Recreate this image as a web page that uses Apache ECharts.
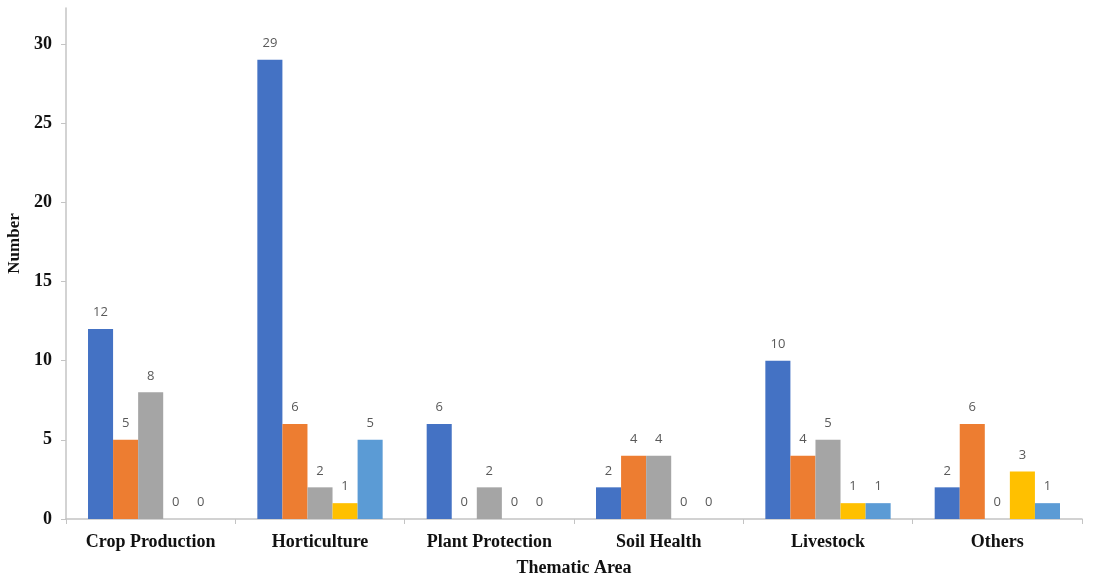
<!DOCTYPE html>
<html>
<head>
<meta charset="utf-8">
<script src="https://cdn.jsdelivr.net/npm/echarts@6/dist/echarts.min.js"></script>
<style>
  html, body { margin: 0; padding: 0; background: #fff; }
  #chart { width: 1093px; height: 577px; }
</style>
</head>
<body>
<div id="chart"></div>
<script>
// Thematic areas along the x axis
const categories = ['Crop Production', 'Horticulture', 'Plant Protection', 'Soil Health', 'Livestock', 'Others'];

// Counts per thematic area, one array per series
const series1 = [12, 29, 6, 2, 10, 2];
const series2 = [5, 6, 0, 4, 4, 6];
const series3 = [8, 2, 2, 4, 5, 0];
const series4 = [0, 1, 0, 0, 1, 3];
const series5 = [0, 5, 0, 0, 1, 1];

const yTicks = [0, 5, 10, 15, 20, 25, 30];

const seriesData = [series1, series2, series3, series4, series5];
const colors = ['#4472C4', '#ED7D31', '#A5A5A5', '#FFC000', '#5B9BD5'];

const serifBold = { fontFamily: 'Liberation Serif', fontWeight: 'bold', color: '#111', fontSize: 18 };

const chart = echarts.init(document.getElementById('chart'), null, { renderer: 'canvas' });

chart.setOption({
  backgroundColor: '#fff',
  animation: false,
  grid: { left: 66, right: 11, top: 8, bottom: 58, containLabel: false, outerBoundsMode: 'none' },
  xAxis: {
    type: 'category',
    data: categories,
    name: 'Thematic Area',
    nameLocation: 'middle',
    nameGap: 40,
    nameTextStyle: serifBold,
    axisLine: { lineStyle: { color: '#c4c4c4', width: 1.5 } },
    axisTick: { show: true, length: 5, lineStyle: { color: '#c4c4c4' } },
    axisLabel: Object.assign({ margin: 14 }, serifBold)
  },
  yAxis: {
    type: 'value',
    min: 0,
    max: 32.27,
    interval: 5,
    name: 'Number',
    nameLocation: 'middle',
    nameGap: 40,
    nameRotate: 90,
    nameTextStyle: Object.assign({}, serifBold, { fontSize: 17, padding: [0, 0, 0, 40] }),
    splitLine: { show: false },
    axisLine: { show: true, lineStyle: { color: '#c4c4c4', width: 1.5 } },
    axisTick: { show: true, length: 5, lineStyle: { color: '#c4c4c4' }, customValues: yTicks },
    axisLabel: Object.assign({ margin: 14, customValues: yTicks }, serifBold)
  },
  series: seriesData.map((d, i) => ({
    name: 'Series ' + (i + 1),
    type: 'bar',
    data: d,
    barGap: '0%',
    barCategoryGap: '26%',
    itemStyle: { color: colors[i] },
    label: {
      show: true,
      position: 'top',
      distance: 10,
      fontFamily: 'Open Sans',
      fontSize: 13,
      color: '#595959'
    }
  }))
});
</script>
</body>
</html>
